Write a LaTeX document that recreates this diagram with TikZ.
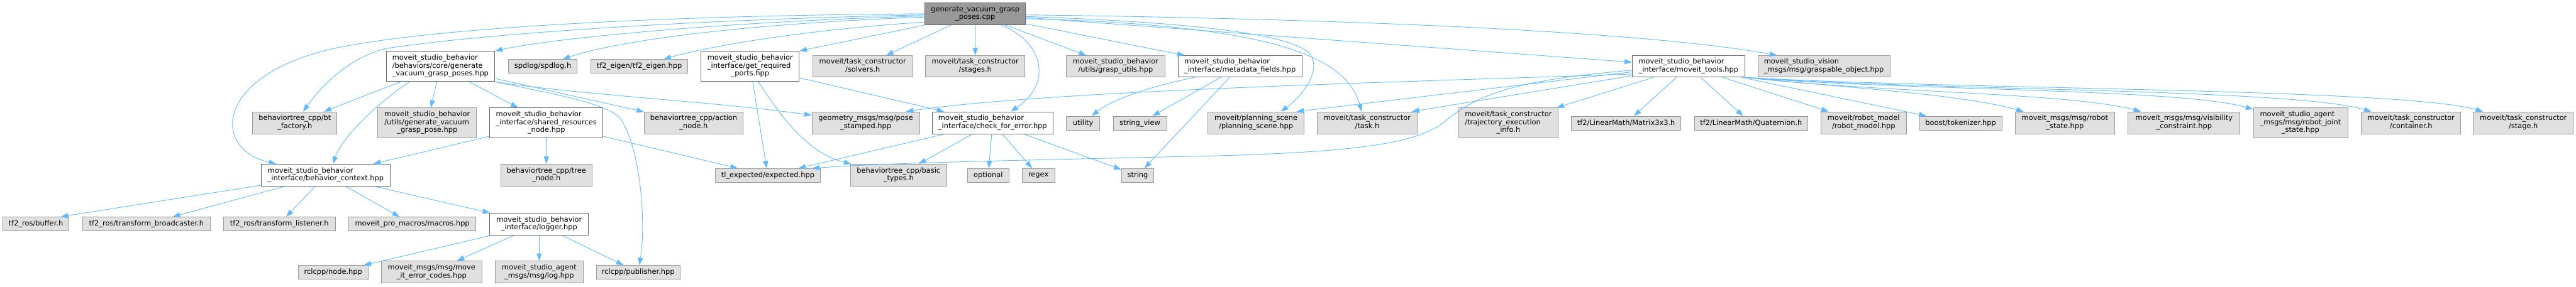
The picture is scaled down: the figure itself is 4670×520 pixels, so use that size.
\documentclass[tikz,border=0pt]{standalone}
\usepackage{fontspec}
\setmainfont{DejaVu Sans}
\usetikzlibrary{arrows.meta,calc}

\definecolor{edgeblue}{HTML}{63B8FF}
\definecolor{boxgray}{HTML}{E0E0E0}
\definecolor{framegray}{HTML}{999999}
\definecolor{framedark}{HTML}{666666}

\newcommand{\dfont}{\fontsize{9.75}{10.8}\selectfont}
\newcommand{\twoline}[2]{\begin{tabular}{@{}l@{}}#1\\\multicolumn{1}{@{}c@{}}{#2}\end{tabular}}
\newcommand{\threeline}[3]{\begin{tabular}{@{}l@{}}#1\\#2\\\multicolumn{1}{@{}c@{}}{#3}\end{tabular}}

\begin{document}
\begin{tikzpicture}[
    x=0.75pt, y=-0.75pt,
    sz/.style 2 args={minimum width=#1*0.75pt, minimum height=#2*0.75pt},
    gbox/.style={draw=framegray, fill=boxgray, line width=0.75pt, inner sep=0pt, font=\dfont},
    wbox/.style={draw=framedark, fill=white, line width=0.75pt, inner sep=0pt, font=\dfont},
    rootbox/.style={draw=framedark, fill=framegray, line width=0.75pt, inner sep=0pt, font=\dfont},
    dep/.style={-{Triangle[length=10pt,width=7pt]}, draw=edgeblue, line width=0.75pt}
]
  \useasboundingbox (0,0) rectangle (4670,520);

  % Source file
  \node[rootbox, sz={182}{40}] (root) at (1768,25) {\twoline{generate\_vacuum\_grasp}{\_poses.cpp}};

  % First level
  \node[wbox, sz={197}{55}] (gvgp) at (798.5,120.5) {\threeline{moveit\_studio\_behavior}{/behaviors/core/generate}{\_vacuum\_grasp\_poses.hpp}};
  \node[gbox, sz={124}{25}] (spdlog) at (984,120.5) {spdlog/spdlog.h};
  \node[gbox, sz={176}{25}] (tfeigen) at (1159,120.5) {tf2\_eigen/tf2\_eigen.hpp};
  \node[wbox, sz={178}{55}] (ports) at (1360,120.5) {\threeline{moveit\_studio\_behavior}{\_interface/get\_required}{\_ports.hpp}};
  \node[gbox, sz={180}{39}] (solvers) at (1564,120.5) {\twoline{moveit/task\_constructor}{/solvers.h}};
  \node[gbox, sz={180}{39}] (stages) at (1768,120.5) {\twoline{moveit/task\_constructor}{/stages.h}};
  \node[gbox, sz={179}{39}] (grasputils) at (2022.5,120.5) {\twoline{moveit\_studio\_behavior}{/utils/grasp\_utils.hpp}};
  \node[wbox, sz={224}{39}] (metadata) at (2248,120.5) {\twoline{moveit\_studio\_behavior}{\_interface/metadata\_fields.hpp}};
  \node[wbox, sz={204}{39}] (tools) at (3061,120.5) {\twoline{moveit\_studio\_behavior}{\_interface/moveit\_tools.hpp}};
  \node[gbox, sz={239}{39}] (graspobj) at (3306.5,120.5) {\twoline{moveit\_studio\_vision}{\_msgs/msg/graspable\_object.hpp}};

  % Second level
  \node[gbox, sz={153}{40}] (btfactory) at (534.5,223) {\twoline{behaviortree\_cpp/bt}{\_factory.h}};
  \node[gbox, sz={179}{54}] (genpose) at (774.5,223) {\threeline{moveit\_studio\_behavior}{/utils/generate\_vacuum}{\_grasp\_pose.hpp}};
  \node[wbox, sz={205}{54}] (shared) at (990.5,223) {\threeline{moveit\_studio\_behavior}{\_interface/shared\_resources}{\_node.hpp}};
  \node[gbox, sz={179}{40}] (actionnode) at (1257.5,223) {\twoline{behaviortree\_cpp/action}{\_node.h}};
  \node[gbox, sz={195}{40}] (posestamped) at (1569.5,223) {\twoline{geometry\_msgs/msg/pose}{\_stamped.hpp}};
  \node[wbox, sz={219}{40}] (checkerr) at (1799.5,223) {\twoline{moveit\_studio\_behavior}{\_interface/check\_for\_error.hpp}};
  \node[gbox, sz={61}{25}] (utility) at (1963.5,223.5) {utility};
  \node[gbox, sz={97}{25}] (strview) at (2066.5,223.5) {string\_view};
  \node[gbox, sz={174}{40}] (planscene) at (2277,223) {\twoline{moveit/planning\_scene}{/planning\_scene.hpp}};
  \node[gbox, sz={181}{40}] (task) at (2478.5,223) {\twoline{moveit/task\_constructor}{/task.h}};
  \node[gbox, sz={181}{54}] (trajinfo) at (2734.5,223) {\threeline{moveit/task\_constructor}{/trajectory\_execution}{\_info.h}};
  \node[gbox, sz={198}{25}] (matrix) at (2948,223.5) {tf2/LinearMath/Matrix3x3.h};
  \node[gbox, sz={205}{25}] (quat) at (3174.5,223.5) {tf2/LinearMath/Quaternion.h};
  \node[gbox, sz={155}{40}] (robotmodel) at (3378.5,223) {\twoline{moveit/robot\_model}{/robot\_model.hpp}};
  \node[gbox, sz={149}{25}] (tokenizer) at (3554.5,223.5) {boost/tokenizer.hpp};
  \node[gbox, sz={181}{40}] (robotstate) at (3743.5,223) {\twoline{moveit\_msgs/msg/robot}{\_state.hpp}};
  \node[gbox, sz={203}{40}] (visibility) at (3959.5,223) {\twoline{moveit\_msgs/msg/visibility}{\_constraint.hpp}};
  \node[gbox, sz={171}{54}] (jointstate) at (4170.5,223) {\threeline{moveit\_studio\_agent}{\_msgs/msg/robot\_joint}{\_state.hpp}};
  \node[gbox, sz={180}{40}] (container) at (4371,223) {\twoline{moveit/task\_constructor}{/container.h}};
  \node[gbox, sz={181}{40}] (stage) at (4574.5,223) {\twoline{moveit/task\_constructor}{/stage.h}};

  % Third level
  \node[wbox, sz={233}{40}] (context) at (590.5,318) {\twoline{moveit\_studio\_behavior}{\_interface/behavior\_context.hpp}};
  \node[gbox, sz={165}{40}] (treenode) at (990.5,318) {\twoline{behaviortree\_cpp/tree}{\_node.h}};
  \node[gbox, sz={190}{25}] (expected) at (1392,318.5) {tl\_expected/expected.hpp};
  \node[gbox, sz={174}{40}] (basictypes) at (1629,318) {\twoline{behaviortree\_cpp/basic}{\_types.h}};
  \node[gbox, sz={75}{25}] (optional) at (1791.5,318.5) {optional};
  \node[gbox, sz={59}{25}] (regex) at (1882.5,318.5) {regex};
  \node[gbox, sz={59}{25}] (string) at (2062.5,318.5) {string};

  % Fourth and fifth level
  \node[gbox, sz={120}{25}] (buffer) at (65,406.5) {tf2\_ros/buffer.h};
  \node[gbox, sz={231}{25}] (broadcaster) at (265.5,406.5) {tf2\_ros/transform\_broadcaster.h};
  \node[gbox, sz={203}{25}] (listener) at (506.5,406.5) {tf2\_ros/transform\_listener.h};
  \node[gbox, sz={231}{25}] (macros) at (747.5,406.5) {moveit\_pro\_macros/macros.hpp};
  \node[wbox, sz={179}{40}] (logger) at (977.5,407) {\twoline{moveit\_studio\_behavior}{\_interface/logger.hpp}};
  \node[gbox, sz={126}{25}] (rclnode) at (604,494.5) {rclcpp/node.hpp};
  \node[gbox, sz={183}{40}] (errcodes) at (782.5,494) {\twoline{moveit\_msgs/msg/move}{\_it\_error\_codes.hpp}};
  \node[gbox, sz={159}{40}] (logmsg) at (977.5,494) {\twoline{moveit\_studio\_agent}{\_msgs/msg/log.hpp}};
  \node[gbox, sz={152}{25}] (publisher) at (1157,494.5) {rclcpp/publisher.hpp};

  % Includes of the source file
  \draw[dep] (root.west) .. controls (1200,28) and (800,50) .. (620,85) .. controls (390,130) and (380,270) .. (context);
  \draw[dep] ($(root.west)+(0,2)$) .. controls (1200,37) and (850,65) .. (700,88) .. controls (630,105) and (580,160) .. (btfactory);
  \draw[dep] ($(root.west)+(0,4)$) .. controls (1300,40) and (1000,70) .. (gvgp.north east);
  \draw[dep] ($(root.west)+(0,6)$) .. controls (1300,45) and (1100,80) .. ($(spdlog.north)+(36,0)$);
  \draw[dep] ($(root.west)+(0,15)$) .. controls (1450,55) and (1280,85) .. ($(tfeigen.north)+(44,0)$);
  \draw[dep] (root.south west) -- (ports.north east);
  \draw[dep] (root) -- (solvers);
  \draw[dep] (root) -- (stages);
  \draw[dep] ($(root.south)+(47,0)$) .. controls (1890,75) and (1910,150) .. ($(checkerr.north)+(33,0)$);
  \draw[dep] (root) -- (grasputils);
  \draw[dep] (root) -- (metadata);
  \draw[dep] ($(root.east)+(0,5)$) .. controls (2150,40) and (2330,60) .. (2372,95) .. controls (2400,125) and (2360,175) .. ($(planscene.north)+(45,0)$);
  \draw[dep] ($(root.east)+(0,9)$) .. controls (2300,45) and (2440,100) .. ($(task.north)+(-10,0)$);
  \draw[dep] (root) -- (tools);
  \draw[dep] ($(root.east)+(0,2)$) .. controls (2500,35) and (3000,60) .. ($(graspobj.north west)+(35,0)$);

  % generate_vacuum_grasp_poses.hpp
  \draw[dep] (gvgp) -- (btfactory);
  \draw[dep] ($(gvgp.south)+(-56,0)$) .. controls (680,190) and (620,250) .. ($(context.north)+(13,0)$);
  \draw[dep] (gvgp) -- (genpose);
  \draw[dep] (gvgp) -- (shared);
  \draw[dep] (gvgp) -- (actionnode);
  \draw[dep] (gvgp.south east) .. controls (1050,172) and (1300,185) .. (posestamped);
  \draw[dep] (gvgp.south east) .. controls (1000,170) and (1090,185) .. (1122,212) .. controls (1160,260) and (1172,400) .. (publisher);

  % shared_resources_node.hpp
  \draw[dep] (shared) -- (context);
  \draw[dep] (shared) -- (treenode);
  \draw[dep] (shared) -- (expected);

  % behavior_context.hpp
  \draw[dep] (context) -- ($(buffer.north)+(45,0)$);
  \draw[dep] (context) -- (broadcaster);
  \draw[dep] (context) -- (listener);
  \draw[dep] (context) -- (macros);
  \draw[dep] (context) -- (logger);

  % logger.hpp
  \draw[dep] (logger) -- (rclnode);
  \draw[dep] (logger) -- (errcodes);
  \draw[dep] (logger) -- (logmsg);
  \draw[dep] (logger) -- (publisher);

  % get_required_ports.hpp
  \draw[dep] (ports) -- (expected);
  \draw[dep] ($(ports.south)+(15,0)$) .. controls (1420,220) and (1470,280) .. (basictypes);
  \draw[dep] (ports) -- (checkerr);

  % check_for_error.hpp
  \draw[dep] (checkerr) -- (expected);
  \draw[dep] (checkerr) -- (basictypes);
  \draw[dep] (checkerr) -- (optional);
  \draw[dep] (checkerr) -- (regex);
  \draw[dep] (checkerr) -- (string);

  % metadata_fields.hpp
  \draw[dep] ($(metadata.south west)+(30,0)$) .. controls (2070,160) and (2010,185) .. (utility);
  \draw[dep] (metadata) -- (strview);
  \draw[dep] (metadata) -- (string);

  % moveit_tools.hpp
  \draw[dep] ($(tools.west)+(0,14)$) .. controls (2500,150) and (1900,165) .. ($(posestamped.north)+(73,0)$);
  \draw[dep] ($(tools.west)+(0,10)$) -- ($(planscene.north east)+(-14,0)$);
  \draw[dep] ($(tools.west)+(0,17)$) -- ($(task.north east)+(-10,0)$);
  \draw[dep] ($(tools.west)+(0,7)$) .. controls (2750,145) and (2680,170) .. (2620,220) .. controls (2570,262) and (2450,276) .. (2200,283) .. controls (1800,292) and (1600,296) .. ($(expected.north east)+(-15,0)$);
  \draw[dep] (tools) -- (trajinfo);
  \draw[dep] (tools) -- (matrix);
  \draw[dep] (tools) -- (quat);
  \draw[dep] (tools) -- (robotmodel);
  \draw[dep] (tools) -- (tokenizer);
  \draw[dep] (tools.south east) .. controls (3350,160) and (3550,170) .. (robotstate);
  \draw[dep] (tools.south east) .. controls (3400,168) and (3750,168) .. (visibility);
  \draw[dep] (tools.south east) .. controls (3450,165) and (3950,160) .. (jointstate);
  \draw[dep] (tools.south east) .. controls (3500,165) and (4150,160) .. (container);
  \draw[dep] (tools.south east) .. controls (3550,163) and (4350,160) .. (stage);
\end{tikzpicture}
\end{document}
